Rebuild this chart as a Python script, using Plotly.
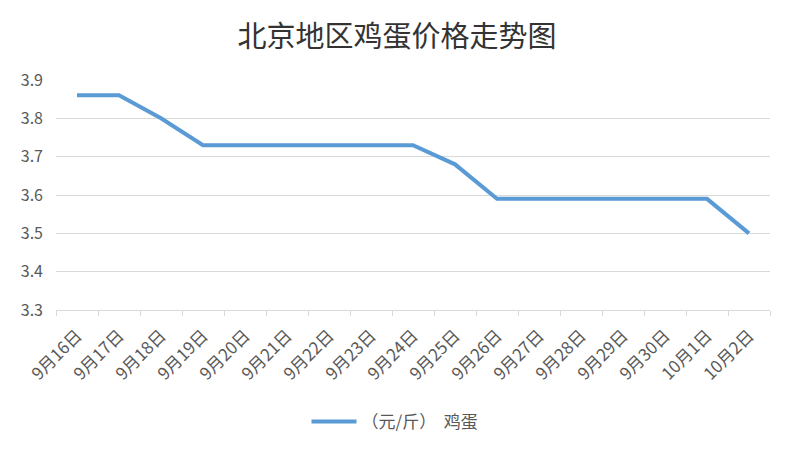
import plotly.graph_objects as go

dates = ["9月16日", "9月17日", "9月18日", "9月19日", "9月20日", "9月21日", "9月22日",
         "9月23日", "9月24日", "9月25日", "9月26日", "9月27日", "9月28日", "9月29日",
         "9月30日", "10月1日", "10月2日"]
prices = [3.86, 3.86, 3.80, 3.73, 3.73, 3.73, 3.73, 3.73, 3.73, 3.68, 3.59, 3.59,
          3.59, 3.59, 3.59, 3.59, 3.50]
series_name = "（元/斤）  鸡蛋"
title_text = "北京地区鸡蛋价格走势图"

# page body adds an 8px offset; compensate
OFF = 8
W, H = 794 - OFF, 452 - OFF
ml, mt = 56 - OFF, 80 - OFF
mr, mb = 24, 142
pw, ph = W - ml - mr, H - mt - mb

fig = go.Figure()
fig.add_trace(go.Scatter(
    x=dates, y=prices, mode="lines", name=series_name,
    line=dict(color="#5b9bd5", width=4, shape="linear"),
    showlegend=True,
))

fig.update_layout(
    width=W, height=H,
    margin=dict(l=ml, r=mr, t=mt, b=mb),
    paper_bgcolor="white", plot_bgcolor="white",
    font=dict(family="Noto Sans CJK SC, sans-serif", color="#595959"),
    title=dict(text=title_text, x=(397 - OFF - ml) / pw, xref="paper", xanchor="center",
               y=1 - (37 - OFF) / H, yanchor="middle",
               font=dict(size=29, color="#333333", family="Noto Sans CJK SC")),
    showlegend=True,
    legend=dict(orientation="h", x=(395 - OFF - ml) / pw, xanchor="center",
                y=-(422 - 310) / ph, yanchor="middle", itemwidth=45,
                font=dict(size=17, color="#595959"),
                bgcolor="rgba(0,0,0,0)"),
    xaxis=dict(
        type="category", tickangle=-45, tickson="boundaries",
        ticks="outside", ticklen=5, tickcolor="#d9d9d9",
        showline=True, linecolor="#d9d9d9", linewidth=1,
        showgrid=False, tickfont=dict(size=17, color="#595959"),
        ticklabelstandoff=8,
        range=[-0.5, len(dates) - 0.5],
    ),
    yaxis=dict(
        range=[3.3, 3.9], dtick=0.1, tickformat=".1f",
        showgrid=True, gridcolor="#d9d9d9", gridwidth=1,
        zeroline=False, showline=False, ticks="",
        tickfont=dict(size=16, color="#595959"), ticklabelstandoff=12,
    ),
)

fig.write_html("out.html")
